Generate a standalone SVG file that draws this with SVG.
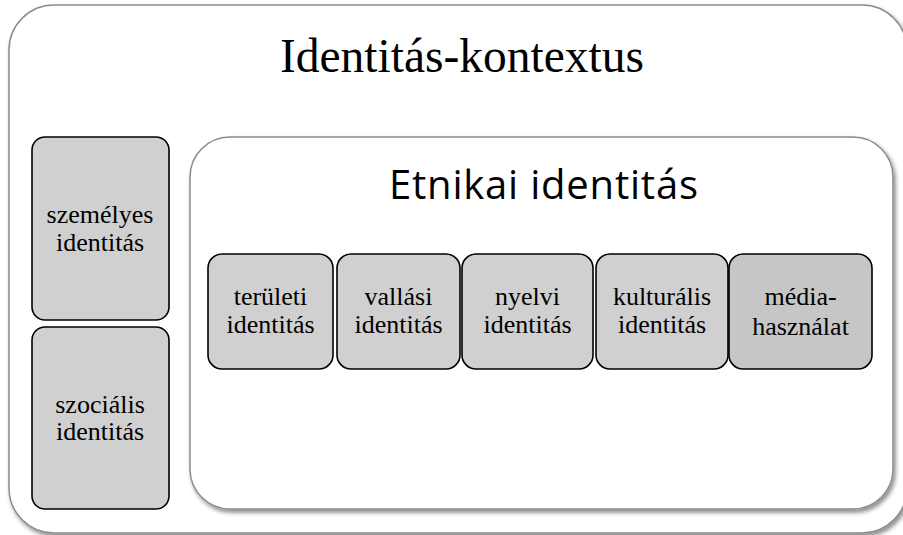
<svg xmlns="http://www.w3.org/2000/svg" width="903" height="535" viewBox="0 0 903 535">
<style>
.frame{fill:#ffffff;stroke:#8c8c8c;stroke-width:1.5;filter:url(#sh)}
.box{fill:#d0d0d0;stroke:#000000;stroke-width:1.6}
.dark{fill:#c6c6c6}
</style>
<defs>
<filter id="sh" x="-5%" y="-5%" width="112%" height="115%">
<feDropShadow dx="2" dy="3" stdDeviation="2" flood-color="#000" flood-opacity="0.45"/>
</filter>
</defs>
<g id="identitas-kontextus">
<rect class="frame" x="9" y="5" width="898" height="528" rx="45"/>
<text x="462" y="72" font-family="Liberation Serif, serif" font-size="47.5" text-anchor="middle" fill="#000">Identitás-kontextus</text>
</g>
<g id="szemelyes">
<rect class="box" x="32" y="137" width="137" height="183" rx="13"/>
<text x="100" y="223" font-family="Liberation Serif, serif" font-size="26" text-anchor="middle">személyes</text>
<text x="100" y="251" font-family="Liberation Serif, serif" font-size="26" text-anchor="middle">identitás</text>
</g>
<g id="szocialis">
<rect class="box" x="32" y="327" width="137" height="182" rx="13"/>
<text x="100" y="413" font-family="Liberation Serif, serif" font-size="26" text-anchor="middle">szociális</text>
<text x="100" y="440" font-family="Liberation Serif, serif" font-size="26" text-anchor="middle">identitás</text>
</g>
<g id="etnikai">
<rect class="frame" x="190" y="137" width="703" height="372" rx="40"/>
<text x="389" y="199" font-family="Open Sans, sans-serif" font-size="40" textLength="309" lengthAdjust="spacing" fill="#000">Etnikai identitás</text>
</g>
<g id="teruleti">
<rect class="box" x="208" y="254" width="125" height="115" rx="14"/>
<text x="270.5" y="305" font-family="Liberation Serif, serif" font-size="26" text-anchor="middle">területi</text>
<text x="270.5" y="333" font-family="Liberation Serif, serif" font-size="26" text-anchor="middle">identitás</text>
</g>
<g id="vallasi">
<rect class="box" x="337" y="254" width="123" height="115" rx="14"/>
<text x="398.5" y="305" font-family="Liberation Serif, serif" font-size="26" text-anchor="middle">vallási</text>
<text x="398.5" y="333" font-family="Liberation Serif, serif" font-size="26" text-anchor="middle">identitás</text>
</g>
<g id="nyelvi">
<rect class="box" x="462" y="254" width="131" height="115" rx="14"/>
<text x="527.5" y="305" font-family="Liberation Serif, serif" font-size="26" text-anchor="middle">nyelvi</text>
<text x="527.5" y="333" font-family="Liberation Serif, serif" font-size="26" text-anchor="middle">identitás</text>
</g>
<g id="kulturalis">
<rect class="box" x="596" y="254" width="132" height="115" rx="14"/>
<text x="662" y="305" font-family="Liberation Serif, serif" font-size="26" text-anchor="middle">kulturális</text>
<text x="662" y="333" font-family="Liberation Serif, serif" font-size="26" text-anchor="middle">identitás</text>
</g>
<g id="mediahasznalat">
<rect class="box dark" x="729" y="254" width="143" height="115" rx="14"/>
<text x="800.5" y="305" font-family="Liberation Serif, serif" font-size="26" text-anchor="middle">média-</text>
<text x="800.5" y="335" font-family="Liberation Serif, serif" font-size="26" text-anchor="middle">használat</text>
</g>
<g id="connectors"></g>
</svg>
